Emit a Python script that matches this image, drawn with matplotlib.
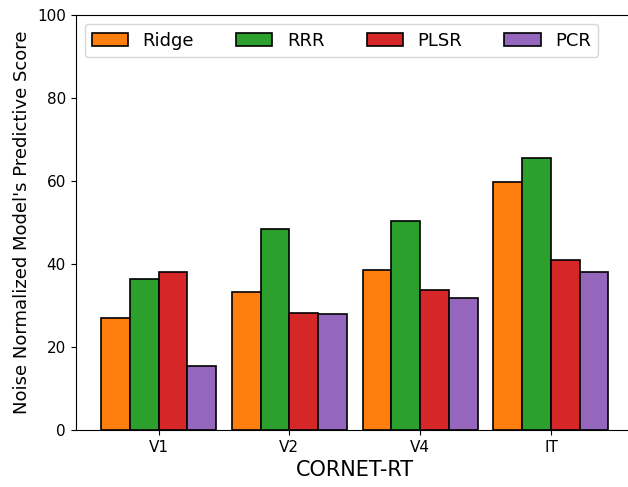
import matplotlib
matplotlib.use("Agg")
import matplotlib.pyplot as plt
import numpy as np

regions = ["V1", "V2", "V4", "IT"]
methods = ["Ridge", "RRR", "PLSR", "PCR"]
ridge = [26.9, 33.3, 38.7, 59.7]
rrr = [36.4, 48.4, 50.4, 65.7]
plsr = [38.2, 28.3, 33.7, 41.0]
pcr = [15.5, 27.9, 31.8, 38.0]
colors = ["#ff7f0e", "#2ca02c", "#d62728", "#9467bd"]

fig = plt.figure(figsize=(6.28, 4.87), dpi=100)
ax = fig.add_axes([75.5 / 628, 1 - 430 / 487, (634 - 75.5) / 628, (430 - 15.3) / 487])
x = np.arange(len(regions))
w = 0.22
for i, (vals, name) in enumerate(zip([ridge, rrr, plsr, pcr], methods)):
    ax.bar(x + (i - 1.5) * w, vals, w, color=colors[i], edgecolor="black",
           linewidth=1.2, label=name)
ax.set_ylim(0, 100)
ax.set_xlim(-0.635, 3.635)
ax.set_xticks(x)
ax.set_xticklabels(regions, fontsize=11)
ax.tick_params(axis="y", labelsize=11)
ax.set_ylabel("Noise Normalized Model's Predictive Score", fontsize=13)
ax.set_xlabel("CORNET-RT", fontsize=15)
ax.legend(ncol=4, loc="upper left", fontsize=13, bbox_to_anchor=(0.0, 1.0),
          handlelength=2.0, columnspacing=2.35)
fig.savefig("out.png", dpi=100)
